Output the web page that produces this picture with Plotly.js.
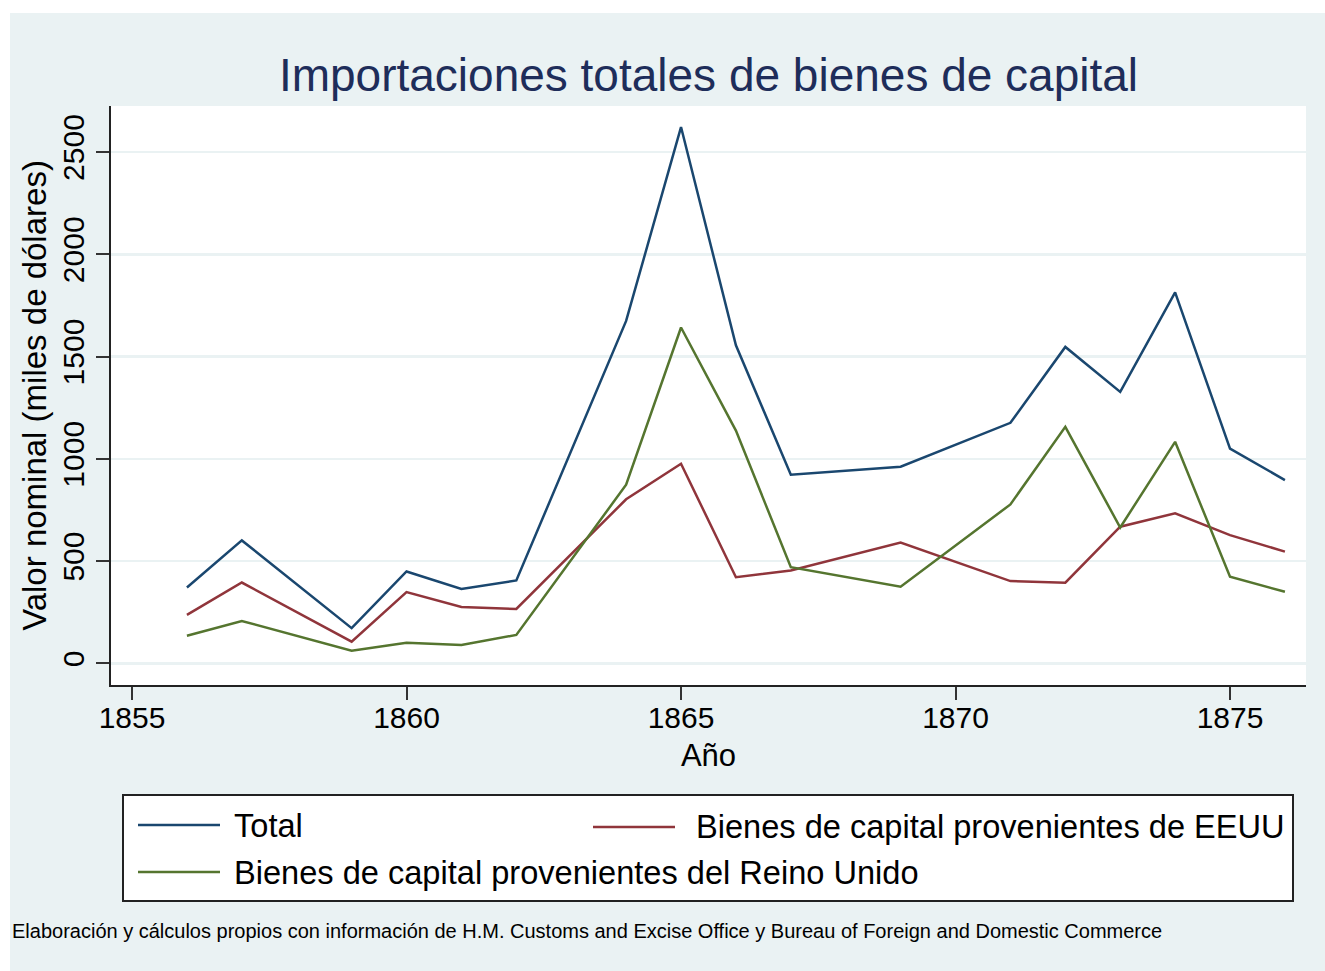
<!DOCTYPE html>
<html>
<head>
<meta charset="utf-8">
<script src="https://cdn.plot.ly/plotly-3.0.1.min.js"></script>
<style>html,body{margin:0;padding:0;background:#fff;}#chart{width:1325px;height:971px;}</style>
</head>
<body>
<div id="chart"></div>
<script>
// Data (values in thousands of dollars)
const years = [1856,1857,1859,1860,1861,1862,1864,1865,1866,1867,1869,1871,1872,1873,1874,1875,1876];
const total = [371,601,172,449,364,405,1674,2622,1555,922,961,1176,1547,1327,1814,1050,896];
const eeuu  = [237,395,106,348,275,266,802,976,421,454,590,402,394,668,733,627,546];
const reinoUnido = [135,207,62,101,90,139,873,1642,1138,470,375,777,1156,664,1083,423,350];

const seriesNames = ["Total", "Bienes de capital provenientes de EEUU", "Bienes de capital provenientes del Reino Unido"];
const xTickVals = [1855,1860,1865,1870,1875];
const yTickVals = [0,500,1000,1500,2000,2500];
const titleText = "Importaciones totales de bienes de capital";
const xTitle = "Año";
const yTitle = "Valor nominal (miles de dólares)";
const noteText = "Elaboración y cálculos propios con información de H.M. Customs and Excise Office y Bureau of Foreign and Domestic Commerce";

const colors = ["#1a476f", "#90353b", "#55752f"];
const panel = "#eaf2f3";
const FONT = "Liberation Sans, Arial, sans-serif";

// plot area in px: x 111..1306, y 106..685
const L = 111, R = 1306, T = 106, B = 685, W = 1325, H = 971;
const px = v => (v - L) / (R - L);
const py = v => (B - v) / (B - T);

const traces = [total, eeuu, reinoUnido].map((vals, i) => ({
  x: years, y: vals, type: "scatter", mode: "lines", name: seriesNames[i],
  line: {color: colors[i], width: 2.5}, showlegend: false
}));

// custom legend
const legendItems = [
  {x0: 138, x1: 220, y: 825, tx: 232, ty: 825},
  {x0: 593, x1: 675, y: 827, tx: 694, ty: 826},
  {x0: 138, x1: 220, y: 872, tx: 232, ty: 872}
];

const shapes = [
  // white margins of the outer frame
  {type: "rect", xref: "paper", yref: "paper", x0: px(0), x1: px(10), y0: py(H), y1: py(0), fillcolor: "#fff", line: {width: 0}, layer: "below"},
  {type: "rect", xref: "paper", yref: "paper", x0: px(0), x1: px(W), y0: py(13), y1: py(0), fillcolor: "#fff", line: {width: 0}, layer: "below"},
  // legend box
  {type: "rect", xref: "paper", yref: "paper", x0: px(123), x1: px(1293), y0: py(901), y1: py(795), fillcolor: "#fff", line: {color: "#222", width: 2}}
];
const annotations = [];
legendItems.forEach((it, i) => {
  shapes.push({type: "line", xref: "paper", yref: "paper", x0: px(it.x0), x1: px(it.x1), y0: py(it.y), y1: py(it.y), line: {color: colors[i], width: 2.5}});
  annotations.push({xref: "paper", yref: "paper", x: px(it.tx), y: py(it.ty), xanchor: "left", yanchor: "middle", text: seriesNames[i], showarrow: false, font: {family: FONT, size: 32.6, color: "#000"}});
});
annotations.push({xref: "paper", yref: "paper", x: px(10), y: py(931), xanchor: "left", yanchor: "middle", text: noteText, showarrow: false, font: {family: FONT, size: 20, color: "#000"}});

const layout = {
  width: W, height: H,
  paper_bgcolor: panel, plot_bgcolor: "#fff",
  margin: {l: L, r: W - R, t: T, b: H - B, pad: 0},
  font: {family: FONT, color: "#000"},
  title: {text: titleText, x: px(708.5), xref: "paper", xanchor: "center", y: 1 - 75 / H, yref: "container", yanchor: "middle",
          font: {family: FONT, size: 46, color: "#1e2d5a"}},
  xaxis: {
    range: [1854.617, 1876.384], tickvals: xTickVals, ticktext: xTickVals.map(String),
    showgrid: false, zeroline: false, showline: true, linecolor: "#222", linewidth: 2,
    ticks: "outside", ticklen: 13, tickwidth: 2, tickcolor: "#333", ticklabelstandoff: -8,
    tickfont: {family: FONT, size: 30, color: "#000"},
    title: {text: xTitle, font: {family: FONT, size: 31, color: "#000"}, standoff: 11}
  },
  yaxis: {
    range: [-106, 2725], tickvals: yTickVals, ticktext: yTickVals.map(String),
    showgrid: true, gridcolor: panel, gridwidth: 2.5, zeroline: false,
    showline: true, linecolor: "#222", linewidth: 2,
    ticks: "outside", ticklen: 13, tickwidth: 2, tickcolor: "#333", tickangle: -90,
    tickfont: {family: FONT, size: 30, color: "#000"},
    title: {text: yTitle, font: {family: FONT, size: 33, color: "#000"}, standoff: 0}
  },
  shapes: shapes, annotations: annotations, showlegend: false
};

Plotly.newPlot("chart", traces, layout, {displayModeBar: false, staticPlot: true});
</script>
</body>
</html>
